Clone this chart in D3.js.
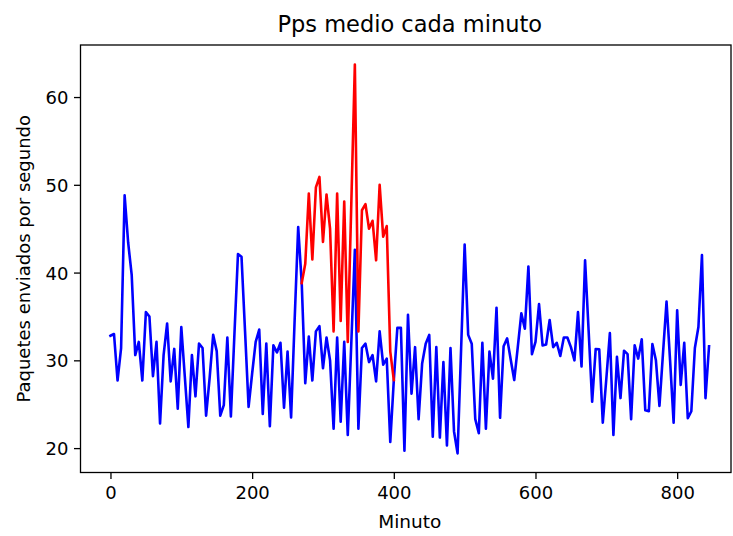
<!DOCTYPE html>
<html>
<head>
<meta charset="utf-8">
<script src="https://cdn.jsdelivr.net/npm/d3@7"></script>
<style>
  html, body { margin: 0; padding: 0; background: #fff; }
  svg { display: block; }
  text { font-family: "DejaVu Sans", sans-serif; fill: #000; }
</style>
</head>
<body>
<svg id="chart" width="733" height="536"></svg>
<script>
// ---- data ----
const minutes = d3.range(0, 850, 5); // 0..845 every 5 minutes (x positions of samples)
const ppsAll = [
  32.8, 33.0, 27.7, 31.4, 48.8, 43.4, 39.7, 30.6, 32.1, 27.7,
  35.5, 35.0, 28.2, 32.1, 22.8, 30.6, 34.2, 27.6, 31.3, 24.5,
  33.8, 28.1, 22.4, 30.6, 25.9, 31.9, 31.4, 23.7, 28.0, 32.9,
  31.05, 23.7, 24.9, 32.6, 23.6, 33.0, 42.1, 41.8, 33.3, 24.7,
  28.5, 32.1, 33.5, 23.9, 31.9, 22.5, 31.7, 30.9, 32.0, 24.6,
  31.0, 23.5, 34.6, 45.2, 38.8, 27.4, 32.7, 27.7, 33.3, 33.9,
  29.1, 32.6, 30.0, 22.2, 32.6, 23.0, 32.1, 21.5, 32.0, 42.6,
  22.2, 31.4, 31.9, 29.8, 30.6, 27.6, 33.3, 29.5, 30.2, 20.7,
  27.75, 33.7, 33.7, 19.7, 35.2, 26.2, 31.5, 23.3, 29.65, 31.9,
  32.9, 21.3, 31.5, 21.2, 29.8, 20.3, 31.4, 21.9, 19.4, 31.3,
  43.2, 32.9, 31.9, 23.3, 21.7, 32.0, 22.2, 31.0, 27.9, 36.0,
  23.45, 31.6, 32.5, 30.1, 27.75, 31.5, 35.35, 33.6, 40.7, 30.7,
  32.1, 36.4, 31.7, 31.8, 34.6, 31.5, 32.0, 30.5, 32.6, 32.6,
  31.5, 30.0, 35.5, 29.3, 41.4, 33.4, 25.3, 31.3, 31.25, 22.9,
  27.9, 33.1, 21.5, 30.4, 25.7, 31.1, 30.7, 23.3, 31.7, 30.2,
  32.4, 24.3, 24.2, 31.85, 30.0, 24.8, 30.8, 36.7, 30.0, 22.9,
  35.7, 27.2, 32.0, 23.4, 24.2, 31.4, 33.8, 42.0, 25.7, 31.6
];
const attackMinutes = d3.range(270, 405, 5); // 270..400
const ppsAttack = [
  38.8, 41.0, 49.0, 41.5, 49.7, 50.9, 43.5, 48.9, 45.0, 33.3,
  49.0, 34.5, 48.1, 32.1, 47.9, 63.7, 33.3, 47.1, 47.8, 45.0,
  45.9, 41.4, 50.0, 44.1, 45.3, 31.0, 27.75
];
const xTicks = [0, 200, 400, 600, 800];
const yTicks = [20, 30, 40, 50, 60];
const titleText = "Pps medio cada minuto";
const xLabel = "Minuto";
const yLabel = "Paquetes enviados por segundo";

// ---- layout ----
const L = 80.5, R = 731, T = 45, B = 472.5;
const svg = d3.select("#chart");

const x = d3.scaleLinear().domain([-42.3, 876]).range([L, R]);
const y = d3.scaleLinear().domain([17.22, 65.93]).range([B, T]);

const seriesAll = minutes.map((m, i) => ({ m, v: ppsAll[i] }));
const seriesAttack = attackMinutes.map((m, i) => ({ m, v: ppsAttack[i] }));

const line = d3.line().x(d => x(d.m)).y(d => y(d.v));

const plot = svg.append("g");
plot.append("clipPath").attr("id", "clip").append("rect")
  .attr("x", L).attr("y", T).attr("width", R - L).attr("height", B - T);

plot.append("path").datum(seriesAll)
  .attr("clip-path", "url(#clip)")
  .attr("fill", "none").attr("stroke", "#0000ff")
  .attr("stroke-width", 2.6).attr("stroke-linejoin", "round").attr("stroke-linecap", "square")
  .attr("d", line);

plot.append("path").datum(seriesAttack)
  .attr("clip-path", "url(#clip)")
  .attr("fill", "none").attr("stroke", "#ff0000")
  .attr("stroke-width", 2.6).attr("stroke-linejoin", "round").attr("stroke-linecap", "square")
  .attr("d", line);

// axes
const xAxis = d3.axisBottom(x).tickValues(xTicks).tickSize(6.5).tickPadding(5.5).tickFormat(d3.format("d"));
const yAxis = d3.axisLeft(y).tickValues(yTicks).tickSize(6.5).tickPadding(5.5).tickFormat(d3.format("d"));

const gx = svg.append("g").attr("transform", `translate(0,${B})`).call(xAxis);
const gy = svg.append("g").attr("transform", `translate(${L},0)`).call(yAxis);
[gx, gy].forEach(g => {
  g.select(".domain").remove();
  g.selectAll(".tick line").attr("stroke", "#000").attr("stroke-width", 1.3);
  g.selectAll(".tick text").attr("font-family", "DejaVu Sans").attr("font-size", 18).attr("fill", "#000");
});
gx.selectAll(".tick text").attr("dy", "0.78em");
gy.selectAll(".tick text").attr("dy", "0.36em");

// spines
svg.append("rect").attr("x", L).attr("y", T).attr("width", R - L).attr("height", B - T)
  .attr("fill", "none").attr("stroke", "#000").attr("stroke-width", 1.3);

// labels
svg.append("text").attr("x", (L + R) / 2 + 4).attr("y", 32).attr("text-anchor", "middle")
  .attr("font-size", 22.5).text(titleText);
svg.append("text").attr("x", (L + R) / 2 + 4).attr("y", 528).attr("text-anchor", "middle")
  .attr("font-size", 18.5).text(xLabel);
svg.append("text").attr("transform", `translate(30,${(T + B) / 2}) rotate(-90)`)
  .attr("text-anchor", "middle").attr("font-size", 18).text(yLabel);
</script>
</body>
</html>
